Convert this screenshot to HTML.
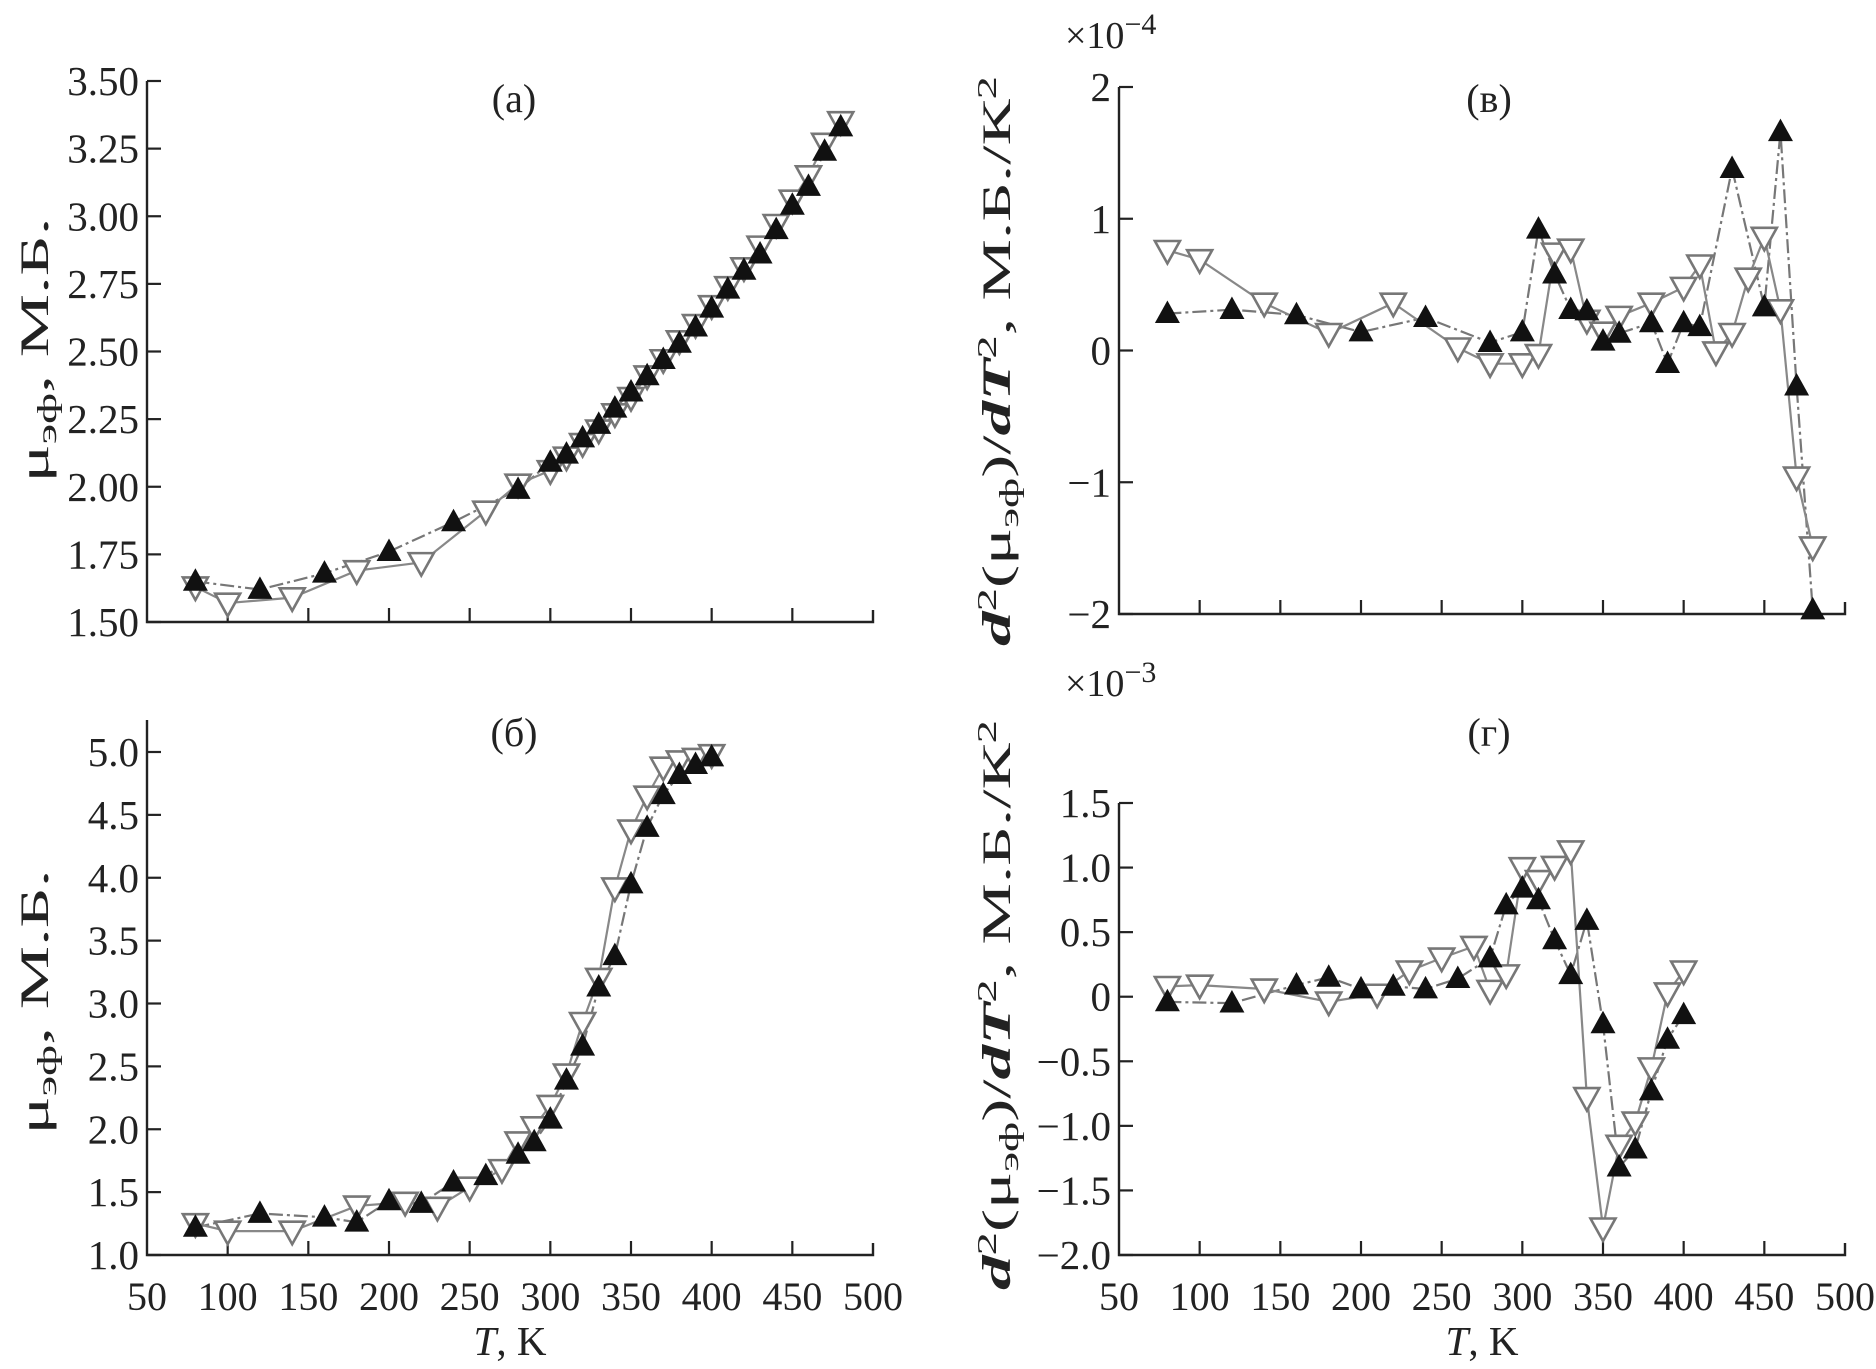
<!DOCTYPE html>
<html><head><meta charset="utf-8"><style>
html,body{margin:0;padding:0;background:#fff;}
svg{display:block;font-family:"Liberation Serif",serif;}
</style></head><body>
<svg id="fig" width="1876" height="1369" viewBox="0 0 1876 1369"></svg>
<script>
// Panel a
const aFilledT=[80,120,160,200,240,280,300,310,320,330,340,350,360,370,380,390,400,410,420,430,440,450,460,470,480];
const aFilledV=[1.65,1.62,1.68,1.76,1.87,1.99,2.09,2.12,2.18,2.23,2.29,2.35,2.41,2.47,2.53,2.59,2.66,2.73,2.80,2.86,2.95,3.04,3.11,3.24,3.33];
const aOpenT=[80,100,140,180,220,260,280,300,310,320,330,340,350,360,370,380,390,400,410,420,430,440,450,460,470,480];
const aOpenV=[1.63,1.57,1.59,1.69,1.72,1.91,2.01,2.06,2.11,2.16,2.21,2.27,2.33,2.41,2.47,2.54,2.60,2.67,2.74,2.81,2.89,2.97,3.06,3.15,3.27,3.35];
const aTicks=["1.50","1.75","2.00","2.25","2.50","2.75","3.00","3.25","3.50"];
// Panel b
const bFilledT=[80,120,160,180,200,220,240,260,280,290,300,310,320,330,340,350,360,370,380,390,400];
const bFilledV=[1.22,1.33,1.30,1.26,1.43,1.41,1.58,1.63,1.80,1.90,2.08,2.39,2.66,3.13,3.38,3.95,4.40,4.66,4.82,4.90,4.96];
const bOpenT=[80,100,140,180,210,230,250,270,280,290,300,310,320,330,340,350,360,370,380,390,400];
const bOpenV=[1.25,1.19,1.19,1.39,1.42,1.38,1.54,1.68,1.90,2.02,2.19,2.44,2.85,3.20,3.92,4.38,4.65,4.88,4.93,4.95,4.98];
const bTicks=["1.0","1.5","2.0","2.5","3.0","3.5","4.0","4.5","5.0"];
// Panel v
const vFilledT=[80,120,160,200,240,280,300,310,320,330,340,350,360,380,390,400,410,430,450,460,470,480];
const vFilledV=[0.28,0.31,0.27,0.14,0.25,0.06,0.14,0.92,0.58,0.31,0.30,0.07,0.13,0.21,-0.10,0.21,0.18,1.38,0.33,1.66,-0.27,-1.97];
const vOpenT=[80,100,140,180,220,260,280,300,310,320,330,340,350,360,380,400,410,420,430,440,450,460,470,480];
const vOpenV=[0.76,0.69,0.36,0.13,0.36,0.02,-0.10,-0.10,-0.03,0.74,0.77,0.23,0.14,0.26,0.36,0.48,0.65,-0.01,0.13,0.55,0.86,0.31,-0.96,-1.49];
const vTicks=["\u22122","\u22121","0","1","2"];
// Panel g
const gFilledT=[80,120,160,180,200,220,240,260,280,290,300,310,320,330,340,350,360,370,380,390,400];
const gFilledV=[-0.04,-0.05,0.09,0.15,0.06,0.08,0.06,0.14,0.30,0.71,0.84,0.75,0.44,0.17,0.59,-0.21,-1.32,-1.18,-0.73,-0.33,-0.14];
const gOpenT=[80,100,140,180,210,230,250,270,280,290,300,310,320,330,340,350,360,370,380,390,400];
const gOpenV=[0.08,0.09,0.06,-0.04,0.02,0.20,0.30,0.39,0.05,0.17,1.00,0.90,1.01,1.13,-0.78,-1.79,-1.15,-0.97,-0.55,0.03,0.20];
const gTicks=["\u22122.0","\u22121.5","\u22121.0","\u22120.5","0","0.5","1.0","1.5"];
const xTicks=["50","100","150","200","250","300","350","400","450","500"];

const NS="http://www.w3.org/2000/svg";
const svg=document.getElementById('fig');
function mk(tag,attrs,parent){const e=document.createElementNS(NS,tag);for(const k in attrs)e.setAttribute(k,attrs[k]);(parent||svg).appendChild(e);return e;}

function panel(id,P,yMin,yMax,yTicks,fT,fV,oT,oV,label,showX,yTitleHTML,titleLen,expo){
  const g=mk('g',{});
  
  
  const xs=t=>P.x0+(t-50)/450*(P.x1-P.x0);
  const ys=v=>P.yb-(v-yMin)/(yMax-yMin)*(P.yb-P.yt);
  const ax=mk('path',{d:`M${P.x0},${P.ytop} L${P.x0},${P.yb} L${P.x1},${P.yb} L${P.x1},${P.yb-12}`,fill:'none',stroke:'#222','stroke-width':2.4},g);
  
  
  for(let i=0;i<xTicks.length;i++){
    const t=+xTicks[i],x=xs(t);
    if(i>0&&i<xTicks.length-1) mk('line',{x1:x,y1:P.yb,x2:x,y2:P.yb-14,stroke:'#222','stroke-width':2.2},g);
    if(showX){const tx=mk('text',{x:x,y:P.yb+55,'font-size':40,'text-anchor':'middle',fill:'#222'},g);tx.textContent=xTicks[i];
      
      }
  }
  for(let i=0;i<yTicks.length;i++){
    const v=parseFloat(yTicks[i].replace('\u2212','-')),y=ys(v);
    mk('line',{x1:P.x0,y1:y,x2:P.x0+14,y2:y,stroke:'#222','stroke-width':2.2},g);
    const tx=mk('text',{x:P.x0-8,y:y+14,'font-size':41,'text-anchor':'end',fill:'#222'},g);tx.textContent=yTicks[i];
    
    
  }
  const lf=mk('polyline',{points:fT.map((t,i)=>xs(t)+','+ys(fV[i])).join(' '),fill:'none',stroke:'#777','stroke-width':2.2,'stroke-dasharray':'14,4,3,4'},g);
  
  
  const lo=mk('polyline',{points:oT.map((t,i)=>xs(t)+','+ys(oV[i])).join(' '),fill:'none',stroke:'#888','stroke-width':2.2},g);
  
  
  const s=12.5;
  oT.forEach((t,i)=>{const x=xs(t),y=ys(oV[i]);
    const m=mk('path',{d:`M${x-s},${y-s*0.75} L${x+s},${y-s*0.75} L${x},${y+s*1.05} Z`,fill:'#fff',stroke:'#777','stroke-width':2.6},g);
    
    });
  fT.forEach((t,i)=>{const x=xs(t),y=ys(fV[i]);
    const m=mk('path',{d:`M${x-s},${y+s*0.75} L${x+s},${y+s*0.75} L${x},${y-s*1.05} Z`,fill:'#111'},g);
    
    });
  const lb=mk('text',{x:P.lx,y:P.ly,'font-size':40,'text-anchor':'middle',fill:'#222'},g);lb.textContent=label;
  
  
  if(showX){const xt=mk('text',{x:(P.x0+P.x1)/2,y:P.yb+100,'font-size':41,'text-anchor':'middle',fill:'#222'},g);
    xt.innerHTML='<tspan font-style="italic">T</tspan>, K';
    
    }
  const yt=mk('text',{x:0,y:0,'font-size':40,'text-anchor':'middle',fill:'#222',textLength:titleLen,lengthAdjust:'spacingAndGlyphs',transform:`translate(${P.tx},${P.ty}) rotate(-90)`},g);
  yt.innerHTML=yTitleHTML;
  
  
  if(expo){const e=mk('text',{x:P.x0-54,y:P.ey,'font-size':38,fill:'#222'},g);
    e.innerHTML='×10<tspan dy="-14" font-size="30">'+expo+'</tspan>';
    
    }
}
const muT='μ<tspan font-size="27" dy="8">эф</tspan><tspan dy="-8">, М.Б.</tspan>';
const d2T='<tspan font-style="italic" font-weight="bold">d</tspan><tspan font-size="27" dy="-14">2</tspan><tspan dy="14">(μ</tspan><tspan font-size="27" dy="8">эф</tspan><tspan dy="-8">)/</tspan><tspan font-style="italic" font-weight="bold">dT</tspan><tspan font-size="27" dy="-14">2</tspan><tspan dy="14">, М.Б./К</tspan><tspan font-size="27" dy="-14">2</tspan>';
panel('a',{x0:147,x1:873,yb:622,yt:81,ytop:81,lx:514,ly:112,tx:48,ty:350},1.5,3.5,aTicks,aFilledT,aFilledV,aOpenT,aOpenV,'(а)',false,muT,265,null);
panel('b',{x0:147,x1:873,yb:1255,yt:752,ytop:720,lx:514,ly:746,tx:48,ty:1002},1.0,5.0,bTicks,bFilledT,bFilledV,bOpenT,bOpenV,'(б)',true,muT,265,null);
panel('v',{x0:1119,x1:1845,yb:614,yt:87,ytop:87,lx:1489,ly:112,tx:1010,ty:361,ey:48},-2,2,vTicks,vFilledT,vFilledV,vOpenT,vOpenV,'(в)',false,d2T,570,'−4');
panel('g',{x0:1119,x1:1845,yb:1255,yt:803,ytop:803,lx:1489,ly:746,tx:1010,ty:1005,ey:696},-2.0,1.5,gTicks,gFilledT,gFilledV,gOpenT,gOpenV,'(г)',true,d2T,570,'−3');
</script>
</body></html>
